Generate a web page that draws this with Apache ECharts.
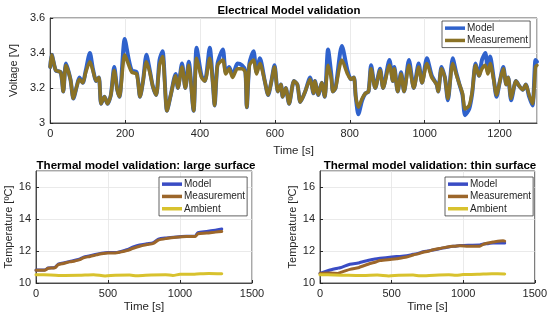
<!DOCTYPE html>
<html><head><meta charset="utf-8">
<script src="https://cdn.jsdelivr.net/npm/echarts@6/dist/echarts.min.js"></script>
<style>html,body{margin:0;padding:0;background:#fff}#c{width:550px;height:320px}</style>
</head><body><div id="c"></div>
<script>
// ---- Electrical model validation (voltage) ----
const tV = [0,4,15,28,35,42,54,62,71,78,87,95,106,114,123,130,136,145,153,162,171,179,185,199,210,218,231,240,248,257,266,274,283,292,300,312,322,335,341,352,361,370,383,391,404,413,426,435,439,447,461,469,478,487,500,512,521,525,532,543,551,560,573,582,590,599,608,616,621,629,638,651,660,668,681,694,703,707,716,725,733,742,751,755,762,779,794,803,811,816,823,833,842,850,857,868,881,889,906,915,919,928,937,945,958,971,984,993,1006,1019,1032,1036,1045,1054,1062,1075,1084,1093,1101,1108,1119,1127,1136,1145,1153,1162,1169,1175,1184,1192,1201,1210,1218,1223,1231,1244,1253,1262,1270,1279,1288,1296,1300];
const vMeas = [3.32,3.39,3.30,3.29,3.18,3.33,3.25,3.14,3.21,3.25,3.23,3.29,3.35,3.30,3.24,3.26,3.11,3.15,3.11,3.16,3.30,3.19,3.15,3.39,3.33,3.29,3.28,3.15,3.24,3.35,3.29,3.21,3.16,3.33,3.38,3.07,3.16,3.27,3.20,3.32,3.20,3.33,3.07,3.37,3.26,3.24,3.37,3.21,3.10,3.33,3.36,3.28,3.31,3.26,3.31,3.31,3.29,3.09,3.33,3.36,3.28,3.34,3.24,3.16,3.23,3.32,3.18,3.22,3.15,3.20,3.11,3.24,3.22,3.12,3.18,3.25,3.17,3.24,3.16,3.23,3.15,3.33,3.25,3.18,3.20,3.36,3.28,3.25,3.26,3.15,3.09,3.14,3.17,3.18,3.31,3.20,3.30,3.20,3.33,3.24,3.31,3.18,3.28,3.18,3.33,3.20,3.32,3.23,3.34,3.26,3.22,3.18,3.31,3.26,3.14,3.34,3.28,3.22,3.17,3.08,3.10,3.18,3.33,3.27,3.31,3.33,3.28,3.34,3.25,3.16,3.24,3.31,3.22,3.26,3.14,3.24,3.21,3.19,3.22,3.16,3.11,3.32,3.33];
const vModel = [3.32,3.39,3.30,3.29,3.18,3.34,3.25,3.14,3.21,3.26,3.23,3.30,3.40,3.31,3.24,3.26,3.11,3.15,3.11,3.16,3.32,3.19,3.15,3.48,3.36,3.30,3.29,3.15,3.24,3.39,3.30,3.21,3.16,3.36,3.41,3.07,3.16,3.28,3.20,3.34,3.20,3.35,3.07,3.43,3.27,3.24,3.43,3.21,3.10,3.34,3.42,3.29,3.32,3.27,3.34,3.33,3.30,3.09,3.34,3.41,3.29,3.37,3.24,3.16,3.23,3.33,3.18,3.22,3.15,3.20,3.11,3.24,3.22,3.12,3.18,3.26,3.17,3.24,3.16,3.23,3.15,3.42,3.27,3.18,3.20,3.44,3.30,3.25,3.26,3.15,3.05,3.13,3.17,3.18,3.33,3.20,3.31,3.20,3.36,3.24,3.32,3.18,3.29,3.18,3.36,3.20,3.34,3.23,3.37,3.27,3.22,3.18,3.32,3.26,3.13,3.37,3.29,3.22,3.16,3.045,3.08,3.17,3.34,3.27,3.36,3.40,3.29,3.38,3.26,3.15,3.24,3.32,3.22,3.26,3.13,3.24,3.21,3.19,3.22,3.15,3.10,3.36,3.35];

// ---- Thermal: large surface ----
const tL = [0,60,85,130,155,190,235,270,305,330,375,420,455,500,550,585,630,675,720,770,815,850,905,975,1045,1105,1125,1185,1245,1290];
const lMeas = [10.80,10.80,10.92,10.95,11.15,11.22,11.32,11.38,11.46,11.58,11.66,11.76,11.83,11.88,11.88,11.93,12.02,12.17,12.30,12.40,12.48,12.68,12.78,12.86,12.90,12.90,13.08,13.12,13.18,13.22];
const lModel = [10.82,10.82,10.94,10.97,11.18,11.25,11.35,11.42,11.50,11.62,11.70,11.80,11.86,11.90,11.90,11.96,12.08,12.25,12.38,12.45,12.52,12.74,12.82,12.88,12.92,12.93,13.15,13.22,13.30,13.37];

// ---- Thermal: thin surface ----
const tT = [0,70,126,140,209,267,279,349,384,419,500,535,605,651,684,721,754,791,849,907,942,977,1035,1116,1140,1174,1209,1279,1290];
const tModel = [10.60,10.81,10.93,10.95,11.17,11.25,11.28,11.44,11.50,11.54,11.62,11.65,11.70,11.80,11.85,11.96,12.00,12.06,12.17,12.27,12.30,12.34,12.36,12.37,12.44,12.46,12.50,12.50,12.50];
const tMeas = [10.60,10.62,10.60,10.65,10.85,10.95,11.00,11.22,11.30,11.40,11.48,11.52,11.62,11.75,11.82,11.92,11.98,12.08,12.18,12.28,12.30,12.33,12.30,12.30,12.42,12.50,12.56,12.64,12.62];

// ---- Ambient (both thermal plots) ----
const tAmb = [0,100,200,300,400,480,550,650,700,800,900,950,1000,1100,1200,1290];
const lAmb = [10.52,10.50,10.47,10.48,10.52,10.44,10.49,10.50,10.45,10.50,10.52,10.47,10.54,10.55,10.60,10.58];
const thinAmb = [10.52,10.50,10.48,10.47,10.50,10.44,10.48,10.50,10.45,10.49,10.51,10.48,10.53,10.54,10.58,10.57];

const xTicksTop = [0,200,400,600,800,1000,1200];
const titles = ['Electrical Model validation','Thermal model validation: large surface','Thermal model validation: thin surface'];

const pairs = (t, v) => t.map((x, i) => [x, v[i]]);
const FONT = 'Liberation Sans, Arial, Helvetica, sans-serif';
const TXT = '#262626';
const C = {
  vModel: '#2f62cc', vMeas: '#8a7226',
  tModel: '#3a4cc4', tMeas: '#9c662a', amb: '#d8c22e'
};

function xAx(gi, max, interval, showMax, ticks) {
  return {
    type: 'value', gridIndex: gi, min: 0, max: max, interval: interval,
    name: 'Time [s]', nameLocation: 'middle', nameGap: gi === 0 ? 22 : 18,
    nameTextStyle: {color: TXT, fontSize: 11.5, fontFamily: FONT},
    axisLine: {show: true, lineStyle: {color: TXT, width: 0.8}},
    axisTick: {show: true, inside: true, length: 3, lineStyle: {color: TXT}},
    axisLabel: {color: TXT, fontSize: 11, fontFamily: FONT, margin: 5, showMaxLabel: showMax,
      formatter: v => (!ticks || ticks.includes(v)) ? String(v) : ''},
    splitLine: {show: true, lineStyle: {color: '#e4e4e4', width: 0.8}}
  };
}
function yAx(gi, min, max, interval, name, gap) {
  return {
    type: 'value', gridIndex: gi, min: min, max: max, interval: interval,
    name: name, nameLocation: 'middle', nameGap: gap, nameRotate: 90,
    nameTextStyle: {color: TXT, fontSize: 11, fontFamily: FONT},
    axisLine: {show: true, lineStyle: {color: TXT, width: 0.8}},
    axisTick: {show: true, inside: true, length: 3, lineStyle: {color: TXT}},
    axisLabel: {color: TXT, fontSize: 11, fontFamily: FONT, margin: 5, showMaxLabel: gi === 0,
      formatter: v => String(Math.round(v * 10) / 10)},
    splitLine: {show: true, lineStyle: {color: '#e4e4e4', width: 0.8}}
  };
}
function line(name, xi, data, color, w, z) {
  return {
    type: 'line', name: name, xAxisIndex: xi, yAxisIndex: xi, data: data,
    showSymbol: false, symbol: 'none', smooth: 0.25, z: z, animation: false,
    lineStyle: {color: color, width: w, join: 'round', cap: 'round'},
    itemStyle: {color: color}
  };
}
function legend(left, top, items) {
  return {
    left: left, top: top, orient: 'vertical', icon: 'rect', itemWidth: 20, itemHeight: 3.5,
    itemGap: 0, padding: [1, 2, 1, 3], backgroundColor: '#fff',
    borderColor: '#3a3a3a', borderWidth: 0.8, borderRadius: 0,
    selectedMode: false,
    textStyle: {color: TXT, fontSize: 10, fontFamily: FONT, padding: [0, 0, 0, -3], lineHeight: 12.3},
    data: items.map(it => ({name: it[0], itemStyle: {color: it[1]}}))
  };
}

const chart = echarts.init(document.getElementById('c'), null, {renderer: 'canvas'});
chart.setOption({
  animation: false,
  backgroundColor: '#fff',
  textStyle: {fontFamily: FONT},
  title: [
    {text: titles[0], left: 284, top: 0, textAlign: 'center', textStyle: {fontSize: 11.4, fontWeight: 'bold', color: '#000', fontFamily: FONT}},
    {text: titles[1], left: 141, top: 155, textAlign: 'center', textStyle: {fontSize: 11.6, fontWeight: 'bold', color: '#000', fontFamily: FONT}},
    {text: titles[2], left: 425, top: 155, textAlign: 'center', textStyle: {fontSize: 11.6, fontWeight: 'bold', color: '#000', fontFamily: FONT}}
  ],
  grid: [
    {left: 36, top: 18, width: 501, height: 105, show: true, borderColor: TXT, borderWidth: 0.8, backgroundColor: '#fff'},
    {left: 36, top: 171, width: 216, height: 112, show: true, borderColor: TXT, borderWidth: 0.8, backgroundColor: '#fff'},
    {left: 320, top: 171, width: 215, height: 112, show: true, borderColor: TXT, borderWidth: 0.8, backgroundColor: '#fff'}
  ],
  xAxis: [
    xAx(0, 1300, 200, false, xTicksTop),
    xAx(1, 1500, 500, true, null),
    xAx(2, 1500, 500, true, null)
  ],
  yAxis: [
    yAx(0, 3, 3.6, 0.2, 'Voltage [V]', 23),
    yAx(1, 10, 17, 2, 'Temperature [ºC]', 19),
    yAx(2, 10, 17, 2, 'Temperature [ºC]', 19)
  ],
  legend: [
    legend(442, 21, [['Model', C.vModel], ['Measurement', C.vMeas]]),
    legend(159, 177, [['Model', C.tModel], ['Measurement', C.tMeas], ['Ambient', C.amb]]),
    legend(445, 177, [['Model', C.tModel], ['Measurement', C.tMeas], ['Ambient', C.amb]])
  ],
  series: [
    line('Model', 0, pairs(tV, vModel), C.vModel, 4, 2),
    line('Measurement', 0, pairs(tV, vMeas), C.vMeas, 3.5, 3),
    line('Model', 1, pairs(tL, lModel), C.tModel, 3, 2),
    line('Measurement', 1, pairs(tL, lMeas), C.tMeas, 3, 3),
    line('Ambient', 1, pairs(tAmb, lAmb), C.amb, 3, 3),
    line('Model', 2, pairs(tT, tModel), C.tModel, 3, 2),
    line('Measurement', 2, pairs(tT, tMeas), C.tMeas, 3, 3),
    line('Ambient', 2, pairs(tAmb, thinAmb), C.amb, 3, 3)
  ]
});
</script></body></html>
